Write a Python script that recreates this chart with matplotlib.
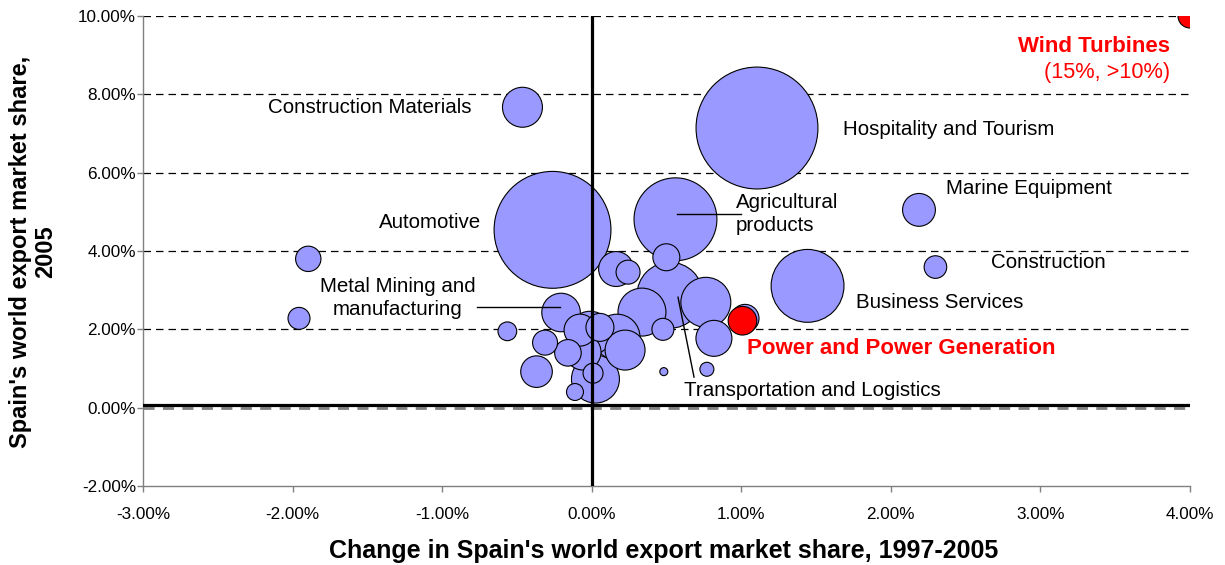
import matplotlib
matplotlib.use("Agg")
import matplotlib.pyplot as plt
from matplotlib.ticker import FuncFormatter, MultipleLocator

plt.rcParams['font.family'] = ['Liberation Sans', 'DejaVu Sans']

# ---- data (percent units) ----
# change in world export market share 1997-2005
share_change = [1.105, -0.262, 0.560, -0.463, 1.443, 2.188, 2.298, 1.025,
                -1.895, -1.957, -0.564, -0.369, -0.312, -0.205, -0.159, 0.025,
                -0.112, 0.009, 0.169, 0.163, 0.243, 0.499, 0.523, 0.763,
                0.817, 0.482, 0.770, 0.336, 0.476, -0.011, -0.058, 0.055,
                0.223, -0.078]
# world export market share 2005
share_2005 = [7.14, 4.54, 4.81, 7.67, 3.11, 5.05, 3.59, 2.28,
              3.80, 2.28, 1.95, 0.92, 1.66, 2.43, 1.40, 0.73,
              0.40, 0.88, 1.80, 3.54, 3.46, 3.84, 2.87, 2.69,
              1.77, 0.92, 0.98, 2.44, 2.00, 1.90, 1.42, 2.05,
              1.47, 1.98]
# bubble size (relative export value)
export_size = [37.2, 34.2, 17.2, 4.0, 13.3, 2.7, 1.28, 1.96,
               1.61, 1.21, 0.88, 2.5, 1.56, 3.72, 1.77, 5.76,
               0.72, 1.0, 5.29, 3.06, 1.44, 1.82, 10.9, 6.25,
               3.24, 0.16, 0.49, 5.76, 1.21, 4.84, 3.24, 1.96,
               4.0, 2.56]

# highlighted clusters
hl_names = ["Power and Power Generation", "Wind Turbines"]
hl_change = [1.008, 4.0]
hl_2005 = [2.22, 10.0]
hl_size = [2.05, 1.44]

# reference lines
avg_change = 0.0
avg_share = 0.08

# ---- figure ----
fig = plt.figure(figsize=(12.25, 5.65), dpi=100)
ax = fig.add_axes([143/1225, 1-486/565, (1190-143)/1225, (486-16)/565])

ax.set_xlim(-3, 4)
ax.set_ylim(-2, 10)

# gridlines
for g in [2, 4, 6, 8, 10]:
    ax.axhline(g, color='black', lw=0.9, ls=(0, (6, 4)), zorder=1)
ax.axhline(0, color='#808080', lw=2.0, ls=(0, (4, 3)), zorder=1)

K = 207.0  # size scaling to points^2
order = sorted(range(len(export_size)), key=lambda i: -export_size[i])
ax.scatter([share_change[i] for i in order], [share_2005[i] for i in order],
           s=[export_size[i] * K for i in order], c='#9999FF',
           edgecolors='black', linewidths=0.8, zorder=3)
ax.scatter(hl_change, hl_2005, s=[v * K for v in hl_size], c='#FF0000',
           edgecolors='black', linewidths=0.8, zorder=4)

# reference lines drawn over bubbles
ax.plot([avg_change, avg_change], [-1.95, 10], color='black', lw=2.3, zorder=5)
ax.plot([-2.99, 4], [avg_share, avg_share], color='black', lw=2.3, zorder=5)

# leader lines
ax.plot([0.57, 1.00], [4.94, 4.94], color='black', lw=1.0, zorder=6)
ax.plot([-0.767, -0.212], [2.57, 2.57], color='black', lw=1.0, zorder=6)
ax.plot([0.577, 0.684], [2.82, 0.78], color='black', lw=1.0, zorder=6)

# labels
lab_fs = 14.8
ax.text(-1.482, 7.67, "Construction Materials", fontsize=lab_fs, ha='center', va='center', zorder=7)
ax.text(1.680, 7.11, "Hospitality and Tourism", fontsize=lab_fs, ha='left', va='center', zorder=7)
ax.text(-1.081, 4.73, "Automotive", fontsize=lab_fs, ha='center', va='center', zorder=7)
ax.text(0.965, 4.94, "Agricultural\nproducts", fontsize=lab_fs, ha='left', va='center',
        linespacing=1.3, zorder=7)
ax.text(2.924, 5.59, "Marine Equipment", fontsize=lab_fs, ha='center', va='center', zorder=7)
ax.text(3.051, 3.71, "Construction", fontsize=lab_fs, ha='center', va='center', zorder=7)
ax.text(2.329, 2.69, "Business Services", fontsize=lab_fs, ha='center', va='center', zorder=7)
ax.text(1.473, 0.45, "Transportation and Logistics", fontsize=lab_fs, ha='center', va='center', zorder=7)
ax.text(-1.295, 2.80, "Metal Mining and\nmanufacturing", fontsize=lab_fs, ha='center', va='center',
        multialignment='center', linespacing=1.3, zorder=7)
ax.text(2.068, 1.52, hl_names[0], fontsize=16, fontweight='bold', color='#FF0000',
        ha='center', va='center', zorder=7)
ax.text(3.866, 9.23, hl_names[1], fontsize=16, fontweight='bold', color='#FF0000',
        ha='right', va='center', zorder=7)
ax.text(3.866, 8.56, "(15%, >10%)", fontsize=15.7, color='#FF0000',
        ha='right', va='center', zorder=7)

# axes styling
ax.xaxis.set_major_locator(MultipleLocator(1))
ax.yaxis.set_major_locator(MultipleLocator(2))
fmt = FuncFormatter(lambda v, p: f"{v:.2f}%")
ax.xaxis.set_major_formatter(fmt)
ax.yaxis.set_major_formatter(fmt)
ax.tick_params(axis='both', labelsize=12.3, length=4, width=1, color='#808080', direction='out')
ax.tick_params(axis='x', pad=11)
ax.tick_params(axis='y', pad=1)
for s in ['top', 'right']:
    ax.spines[s].set_visible(False)
for s in ['left', 'bottom']:
    ax.spines[s].set_color('#808080')
    ax.spines[s].set_linewidth(1.0)

ax.set_xlabel("Change in Spain's world export market share, 1997-2005",
              fontsize=18, fontweight='bold')
ax.xaxis.label.set_va('center')
ax.xaxis.set_label_coords(0.497, -0.138)
ax.set_ylabel("Spain's world export market share,\n2005", fontsize=17, fontweight='bold',
              linespacing=1.1)
ax.yaxis.label.set_va('center')
ax.yaxis.set_label_coords(-0.105, 0.498)

fig.savefig("out.png", dpi=100)
